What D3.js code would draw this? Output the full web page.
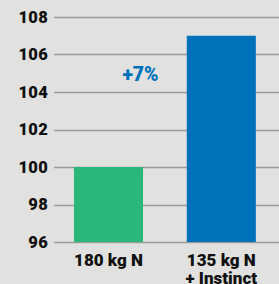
<!DOCTYPE html>
<html>
<head>
<meta charset="utf-8">
<script src="https://cdn.jsdelivr.net/npm/d3@7"></script>
<style>
  html, body { margin: 0; padding: 0; background: #e1e2df; }
  svg { display: block; }
  text { font-family: Roboto, "Open Sans", sans-serif; font-weight: 900; fill: #111; }
</style>
</head>
<body>
<div id="chart"></div>
<script>
  const categories = ['180 kg N', '135 kg N|+ Instinct'];
  const values = [100, 107];
  const colors = ['#2bb77a', '#0072bc'];
  const ticks = [96, 98, 100, 102, 104, 106, 108];
  const gainLabel = '+7%';

  let width = 279;
  let height = 284;
  let svg = d3.select('#chart')
    .append('svg')
    .attr('width', width)
    .attr('height', height);

  let y = d3.scaleLinear().domain([96, 108]).range([242, 17]);
  let x = d3.scaleBand()
    .domain(categories)
    .range([54, 275.8])
    .paddingInner(0.388)
    .paddingOuter(0.177);

  // gridlines
  svg.selectAll('.grid')
    .data(ticks)
    .enter().append('line')
    .attr('class', 'grid')
    .attr('x1', 54)
    .attr('x2', width)
    .attr('y1', d => Math.round(y(d)) + 0.5)
    .attr('y2', d => Math.round(y(d)) + 0.5)
    .attr('stroke', '#9a9a9a')
    .attr('stroke-width', 1.3);

  // y labels
  svg.selectAll('.ylab')
    .data(ticks)
    .enter().append('text')
    .attr('class', 'ylab')
    .attr('x', 48)
    .attr('y', d => y(d))
    .attr('dy', '0.36em')
    .attr('text-anchor', 'end')
    .style('font-size', '16.5px')
    .style('letter-spacing', '0.3px')
    .text(d => d);

  // bars
  svg.selectAll('.bar')
    .data(values)
    .enter().append('rect')
    .attr('class', 'bar')
    .attr('x', (d, i) => x(categories[i]))
    .attr('width', x.bandwidth())
    .attr('y', d => y(d))
    .attr('height', d => y(96) - y(d))
    .attr('fill', (d, i) => colors[i]);

  // category labels
  categories.forEach(c => {
    let t = svg.append('text')
      .attr('text-anchor', 'middle')
      .style('font-size', '17px');
    c.split('|').forEach((line, j) => {
      t.append('tspan')
        .attr('x', x(c) + x.bandwidth() / 2)
        .attr('y', 266 + j * 18)
        .text(line);
    });
  });

  // gain annotation
  svg.append('text')
    .attr('x', 140.5)
    .attr('y', 80.7)
    .attr('text-anchor', 'middle')
    .style('font-size', '19.5px')
    .style('fill', '#0072bc')
    .text(gainLabel);
</script>
</body>
</html>
